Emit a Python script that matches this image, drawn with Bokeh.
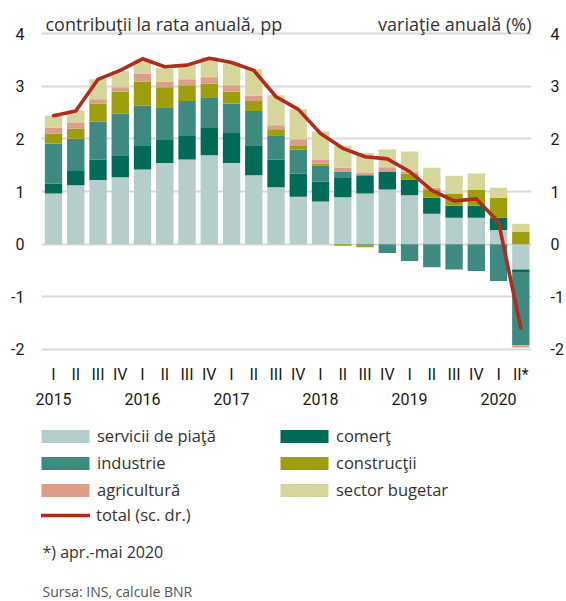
from bokeh.plotting import figure
from bokeh.layouts import column
from bokeh.models import Range1d, LinearAxis, FixedTicker, Label, Legend, LegendItem
from bokeh.embed import file_html
from bokeh.resources import INLINE
import numpy as np

# ---------------- data ----------------
quarter_labels = ["I", "II", "III", "IV"] * 5 + ["I", "II*"]
year_labels = ["2015", "2016", "2017", "2018", "2019", "2020"]
year_positions = [0, 4, 8, 12, 16, 20]
yticks = [-2, -1, 0, 1, 2, 3, 4]
ytick_labels = ["-2", "-1", "0", "1", "2", "3", "4"]

servicii = [0.96, 1.12, 1.22, 1.27, 1.42, 1.54, 1.61, 1.69, 1.54, 1.31, 1.08,
            0.90, 0.81, 0.89, 0.96, 1.04, 0.93, 0.58, 0.50, 0.50, 0.27, -0.48]
comert = [0.19, 0.27, 0.39, 0.42, 0.46, 0.45, 0.46, 0.53, 0.57, 0.57, 0.53,
          0.44, 0.38, 0.38, 0.35, 0.34, 0.30, 0.30, 0.23, 0.23, 0.23, -0.05]
industrie = [0.76, 0.61, 0.72, 0.79, 0.75, 0.61, 0.65, 0.57, 0.56, 0.65, 0.46,
             0.46, 0.30, 0.11, -0.02, -0.17, -0.32, -0.44, -0.48, -0.51, -0.70, -1.39]
constructii = [0.19, 0.19, 0.34, 0.42, 0.46, 0.38, 0.30, 0.26, 0.23, 0.19, 0.11,
               0.08, 0.04, -0.03, -0.04, 0.00, 0.11, 0.15, 0.23, 0.30, 0.38, 0.23]
agricultura = [0.11, 0.11, 0.08, 0.08, 0.15, 0.11, 0.11, 0.12, 0.12, 0.10, 0.08,
               0.11, 0.08, 0.07, 0.04, 0.08, 0.04, 0.04, 0.00, 0.00, 0.00, -0.04]
buget = [0.23, 0.24, 0.38, 0.31, 0.26, 0.25, 0.27, 0.38, 0.41, 0.50, 0.57,
         0.57, 0.53, 0.42, 0.38, 0.34, 0.38, 0.38, 0.34, 0.31, 0.19, 0.16]
total = [2.44, 2.53, 3.13, 3.30, 3.52, 3.37, 3.40, 3.53, 3.45, 3.30, 2.80,
         2.56, 2.10, 1.82, 1.66, 1.62, 1.38, 1.02, 0.82, 0.86, 0.42, -1.59]

series_names = ["servicii de piaţă", "comerţ", "industrie", "construcţii", "agricultură", "sector bugetar"]
series_values = [servicii, comert, industrie, constructii, agricultura, buget]
series_colors = ["#b5cecb", "#006b56", "#3e8a80", "#9e9d0c", "#dc9e88", "#d6d59b"]
line_color = "#b02c1d"

# ---------------- layout constants ----------------
W = 566
H1 = 412            # chart figure
H2 = 189            # legend / notes figure
FRAME_H = 352
FRAME_LEFT = 41
TEXT_FONT = "Open Sans"
TICK_FONT = "Roboto"
TEXT_COLOR = "#333333"

# ---------------- chart figure ----------------
p = figure(width=W, height=H1, output_backend="svg", toolbar_location=None,
           x_range=Range1d(-0.54, 21.48), y_range=Range1d(-2.057, 4.627),
           min_border_left=FRAME_LEFT, min_border_right=34, min_border_top=0,
           min_border_bottom=H1 - FRAME_H)
p.outline_line_color = None

p.xgrid.visible = False
p.ygrid.ticker = FixedTicker(ticks=yticks)
p.ygrid.grid_line_color = "#d9d9d9"
p.ygrid.grid_line_width = 2

def style_axis(ax, standoff, size):
    ax.axis_line_color = None
    ax.major_tick_line_color = None
    ax.minor_tick_line_color = None
    ax.major_tick_out = 0
    ax.major_tick_in = 0
    ax.minor_tick_out = 0
    ax.minor_tick_in = 0
    ax.major_label_standoff = standoff
    ax.major_label_text_font = TICK_FONT
    ax.major_label_text_font_size = size
    ax.major_label_text_color = "#1a1a1a"

yax = p.yaxis[0]
yax.ticker = FixedTicker(ticks=yticks)
yax.major_label_overrides = {t: s for t, s in zip(yticks, ytick_labels)}
style_axis(yax, 17, "16px")

p.extra_y_ranges = {"tot": Range1d(-2.057, 4.627)}
rax = LinearAxis(y_range_name="tot", ticker=FixedTicker(ticks=yticks))
rax.major_label_overrides = {t: s for t, s in zip(yticks, ytick_labels)}
style_axis(rax, 19, "16px")
p.add_layout(rax, "right")

xax = p.xaxis[0]
xax.ticker = FixedTicker(ticks=list(range(len(quarter_labels))))
xax.major_label_overrides = {i: q for i, q in enumerate(quarter_labels)}
style_axis(xax, 12, "16px")

yrax = LinearAxis(ticker=FixedTicker(ticks=year_positions))
yrax.major_label_overrides = {pos: y for pos, y in zip(year_positions, year_labels)}
style_axis(yrax, 6, "16px")
p.add_layout(yrax, "below")

xs = np.arange(len(quarter_labels))
pos = np.zeros(len(xs))
neg = np.zeros(len(xs))
for name, vals, color in zip(series_names, series_values, series_colors):
    v = np.array(vals, dtype=float)
    bottom = np.where(v >= 0, pos, neg)
    top = bottom + v
    pos = np.where(v >= 0, top, pos)
    neg = np.where(v < 0, top, neg)
    p.vbar(x=xs, bottom=bottom, top=top, width=0.78, fill_color=color, line_color=None)

p.line(xs, total, y_range_name="tot", line_color=line_color,
       line_width=3.6, line_join="round", line_cap="round")

def add_label(fig, text, x, y, size, color, align="left"):
    fig.add_layout(Label(x=x, y=y, x_units="screen", y_units="screen", text=text,
                         text_font=TEXT_FONT, text_font_size=size,
                         text_color=color, text_align=align, text_baseline="middle"))

add_label(p, "contribuţii la rata anuală, pp", 4, FRAME_H - 23, "18px", TEXT_COLOR)
add_label(p, "variaţie anuală (%)", 490, FRAME_H - 23, "18px", TEXT_COLOR, align="right")

# ---------------- legend / notes figure ----------------
# (the column layout aligns this figure's frame with the chart frame, so
#  positions below are relative to x = FRAME_LEFT)
q = figure(width=W, height=H2, output_backend="svg", toolbar_location=None,
           x_range=Range1d(0, W), y_range=Range1d(0, H2),
           x_axis_location=None, y_axis_location=None,
           min_border_left=0, min_border_right=0, min_border_top=0, min_border_bottom=0)
q.outline_line_color = None
q.grid.visible = False

nan = [np.nan]
swatch = {}
for name, color in zip(series_names, series_colors):
    swatch[name] = q.vbar(x=nan, bottom=nan, top=nan, width=1, fill_color=color, line_color=None)
tot_sw = q.line(x=nan, y=nan, line_color=line_color, line_width=3.6, line_cap="round")

def make_legend(items, loc, glyph_w, standoff):
    lg = Legend(items=items, location=loc, orientation="vertical",
                glyph_width=glyph_w, glyph_height=16, label_height=20,
                spacing=4, padding=0, margin=0, label_standoff=standoff,
                border_line_color=None, background_fill_alpha=0,
                label_text_font=TEXT_FONT, label_text_font_size="16.5px",
                label_text_color=TEXT_COLOR)
    q.add_layout(lg)

make_legend([LegendItem(label=n, renderers=[swatch[n]])
             for n in ["servicii de piaţă", "industrie", "agricultură"]], (-6, 100), 60, 2)
make_legend([LegendItem(label=n, renderers=[swatch[n]])
             for n in ["comerţ", "construcţii", "sector bugetar"]], (233, 100), 60, 2)
make_legend([LegendItem(label="total (sc. dr.)", renderers=[tot_sw])], (0, 75), 49, 6)

add_label(q, "*) apr.-mai 2020", 1, 50, "16px", TEXT_COLOR)
add_label(q, "Sursa: INS, calcule BNR", 1, 10, "14px", "#555555")

layout = column(p, q, spacing=0)
open("out.html", "w").write(file_html(layout, INLINE))
